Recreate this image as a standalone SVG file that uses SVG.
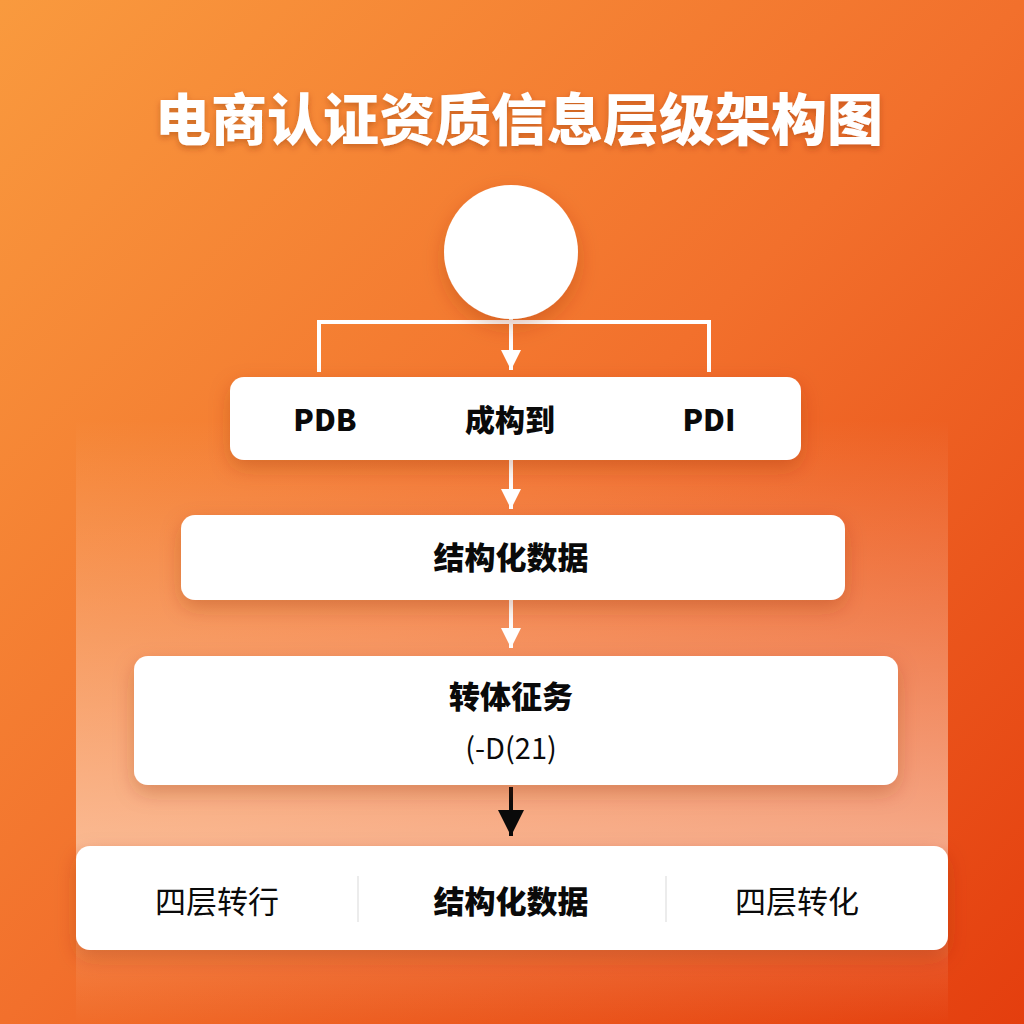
<svg xmlns="http://www.w3.org/2000/svg" width="1024" height="1024" viewBox="0 0 1024 1024">
<defs>
<linearGradient id="bg" x1="0" y1="0" x2="1" y2="1">
<stop offset="0" stop-color="#F99A3E"/>
<stop offset="0.5" stop-color="#F2702C"/>
<stop offset="1" stop-color="#E43E0E"/>
</linearGradient>
<linearGradient id="panel" x1="0" y1="0" x2="0" y2="1">
<stop offset="0" stop-color="#FFE6D2" stop-opacity="0"/>
<stop offset="0.7" stop-color="#FFE6D2" stop-opacity="0.6"/>
<stop offset="0.9" stop-color="#FFE6D2" stop-opacity="0.1"/>
<stop offset="1" stop-color="#FFE6D2" stop-opacity="0"/>
</linearGradient>
<filter id="sh" x="-20%" y="-30%" width="140%" height="170%">
<feDropShadow dx="0" dy="8" stdDeviation="10" flood-color="#8A2A00" flood-opacity="0.28"/>
</filter>
<filter id="tsh" x="-10%" y="-30%" width="120%" height="160%">
<feDropShadow dx="0" dy="3" stdDeviation="3" flood-color="#7A2A00" flood-opacity="0.35"/>
</filter>
<marker id="wa" viewBox="0 0 10 10" refX="10" refY="5" markerWidth="5" markerHeight="5" orient="auto" markerUnits="strokeWidth">
<path d="M0,0 L10,5 L0,10 z" fill="#FFFFFF"/>
</marker>
<marker id="ba" viewBox="0 0 10 10" refX="10" refY="5" markerWidth="6.5" markerHeight="6.5" orient="auto" markerUnits="strokeWidth">
<path d="M0,0 L10,5 L0,10 z" fill="#0A0A0A"/>
</marker>
<style>
.box{fill:#FFFFFF;filter:url(#sh)}
.t{font-family:"Noto Sans CJK SC","Liberation Sans",sans-serif;fill:#0A0A0A;text-anchor:middle}
.b{font-weight:900}
.w{fill:none;stroke:#FFFFFF;stroke-width:4}
.k{fill:none;stroke:#0A0A0A;stroke-width:4}
.div{stroke:#E6E6E6;stroke-width:1.5}
</style>
</defs>
<rect width="1024" height="1024" fill="url(#bg)"/>
<rect x="76" y="420" width="872" height="604" fill="url(#panel)"/>
<text x="519" y="140" font-family="Noto Sans CJK SC,sans-serif" font-weight="900" font-size="56" fill="#FFFFFF" text-anchor="middle" filter="url(#tsh)">电商认证资质信息层级架构图</text>
<g id="connectors">
<path class="w" d="M319,372 V322 H709 V372"/>
<path class="w" d="M511,318 V370" marker-end="url(#wa)"/>
<path class="w" d="M511,460 V509" marker-end="url(#wa)"/>
<path class="w" d="M511,600 V648" marker-end="url(#wa)"/>
<path class="k" d="M511,787 V836" marker-end="url(#ba)"/>
</g>
<g id="root">
<circle cx="511" cy="252" r="67" fill="#FFFFFF" filter="url(#sh)"/>
</g>
<g id="n1">
<rect class="box" x="230" y="377" width="571" height="83" rx="14"/>
<text class="t b" x="325" y="431" font-size="30">PDB</text>
<text class="t b" x="510" y="431" font-size="30">成构到</text>
<text class="t b" x="709" y="431" font-size="30">PDI</text>
</g>
<g id="n2">
<rect class="box" x="181" y="515" width="664" height="85" rx="14"/>
<text class="t b" x="511" y="569" font-size="31">结构化数据</text>
</g>
<g id="n3">
<rect class="box" x="134" y="656" width="764" height="129" rx="14"/>
<text class="t b" x="511" y="708" font-size="31">转体征务</text>
<text class="t" x="511" y="759" font-size="29">(-D(21)</text>
</g>
<g id="n4">
<rect class="box" x="76" y="846" width="872" height="104" rx="14"/>
<line class="div" x1="358" y1="876" x2="358" y2="922"/>
<line class="div" x1="666" y1="876" x2="666" y2="922"/>
<text class="t" x="217" y="913" font-size="31">四层转行</text>
<text class="t b" x="511" y="913" font-size="31">结构化数据</text>
<text class="t" x="797" y="913" font-size="31">四层转化</text>
</g>
</svg>
